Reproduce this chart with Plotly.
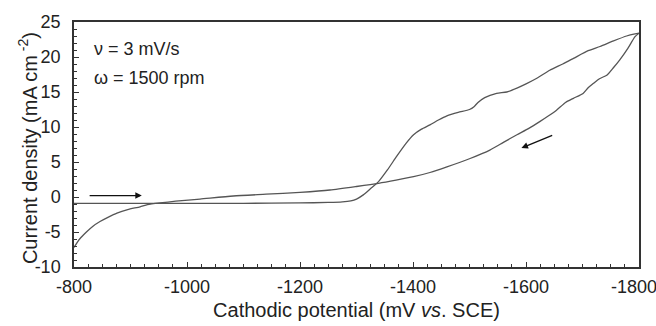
import plotly.graph_objects as go

# Forward (cathodic) scan: -800 -> -1800 mV
fwd_x = [-800, -850, -900, -950, -1000, -1100, -1200, -1250, -1275, -1290, -1300, -1312,
         -1325, -1339, -1355, -1371, -1388, -1401, -1415, -1430, -1445, -1460, -1480,
         -1500, -1508, -1515, -1527, -1548, -1566, -1585, -1601, -1620, -1642, -1665,
         -1684, -1710, -1731, -1755, -1778, -1793, -1800]
fwd_y = [-0.9, -0.9, -0.9, -0.9, -0.9, -0.9, -0.85, -0.78, -0.7, -0.55, -0.3, 0.3,
         1.2, 2.2, 3.9, 5.8, 7.7, 8.9, 9.7, 10.3, 11.0, 11.6, 12.1,
         12.5, 12.9, 13.5, 14.2, 14.8, 15.0, 15.6, 16.2, 17.0, 18.1, 19.0,
         19.8, 20.9, 21.5, 22.3, 23.0, 23.3, 23.4]

# Reverse (anodic) scan: -1800 -> -800 mV
rev_x = [-1800, -1793, -1780, -1766, -1755, -1743, -1730, -1719, -1710, -1701, -1684,
         -1670, -1654, -1640, -1625, -1605, -1584, -1560, -1536, -1501, -1460, -1430,
         -1401, -1370, -1339, -1300, -1253, -1200, -1140, -1082, -1023, -980, -952,
         -930, -917, -895, -876, -860, -846, -833, -822, -810, -800]
rev_y = [23.4, 22.9, 21.2, 19.6, 18.5, 17.4, 16.9, 16.2, 15.6, 14.8, 14.1,
         13.5, 12.4, 11.6, 10.8, 9.8, 8.9, 7.8, 6.7, 5.5, 4.3, 3.5,
         2.9, 2.4, 1.95, 1.5, 1.0, 0.67, 0.4, 0.14, -0.3, -0.6, -0.85,
         -1.1, -1.4, -1.8, -2.3, -2.9, -3.5, -4.2, -5.0, -6.0, -7.2]

x_ticks = [-800, -1000, -1200, -1400, -1600, -1800]
y_ticks = [-10, -5, 0, 5, 10, 15, 20, 25]

line_color = "#555555"
axis_color = "#333333"
text_color = "#222222"
font_family = "Liberation Sans, Arial, sans-serif"

# keep the last x label inside the picture, as in the reference
x_ticktext = [str(v) for v in x_ticks]
x_ticktext[-1] = x_ticktext[-1] + "\u00a0\u00a0"

fig = go.Figure()
fig.add_trace(go.Scatter(x=fwd_x, y=fwd_y, mode="lines",
                         line=dict(color=line_color, width=1.3, shape="spline", smoothing=0.6),
                         showlegend=False))
fig.add_trace(go.Scatter(x=rev_x, y=rev_y, mode="lines",
                         line=dict(color=line_color, width=1.3, shape="spline", smoothing=0.6),
                         showlegend=False))

# direction arrows
fig.add_annotation(x=-920, y=0.2, ax=-825, ay=0.2, xref="x", yref="y", axref="x", ayref="y",
                   text="", showarrow=True, arrowhead=2, arrowsize=1, arrowwidth=1.3,
                   arrowcolor="#111111")
fig.add_annotation(x=-1592, y=7.0, ax=-1649, ay=8.9, xref="x", yref="y", axref="x", ayref="y",
                   text="", showarrow=True, arrowhead=2, arrowsize=1, arrowwidth=1.3,
                   arrowcolor="#111111")

fig.add_annotation(x=-831, y=21.1, xref="x", yref="y", text="ν = 3 mV/s", showarrow=False,
                   xanchor="left", yanchor="middle", font=dict(size=18, color=text_color))
fig.add_annotation(x=-831, y=17.0, xref="x", yref="y", text="ω = 1500 rpm", showarrow=False,
                   xanchor="left", yanchor="middle", font=dict(size=18, color=text_color))

# y-axis title
fig.add_annotation(x=-0.082, y=0.484, xref="paper", yref="paper",
                   text="Current density (mA cm<sup> -2</sup>)", textangle=-90,
                   showarrow=False, xanchor="center", yanchor="middle",
                   font=dict(size=20, color=text_color))

fig.update_layout(
    width=656, height=326,
    margin=dict(l=74, r=17, t=22, b=59, autoexpand=False),
    paper_bgcolor="white", plot_bgcolor="white",
    font=dict(family=font_family, size=18, color=text_color),
    xaxis=dict(range=[-800, -1800], tickvals=x_ticks, ticktext=x_ticktext,
               ticks="inside", ticklen=5, tickwidth=1, tickcolor=axis_color,
               ticklabelstandoff=3, ticklabeloverflow="allow",
               minor=dict(dtick=25, tick0=-800, ticks="inside", ticklen=3, tickcolor=axis_color),
               showgrid=False, zeroline=False, showline=True, linecolor=axis_color, linewidth=1.5,
               mirror=True, automargin=False, tickfont=dict(size=18),
               title=dict(text="Cathodic potential (mV <i>vs</i>. SCE)", font=dict(size=20), standoff=7)),
    yaxis=dict(range=[-10, 25], tickvals=y_ticks, ticktext=[str(v) for v in y_ticks],
               ticks="inside", ticklen=5, tickwidth=1, tickcolor=axis_color,
               ticklabelstandoff=8,
               minor=dict(dtick=1, tick0=0, ticks="inside", ticklen=3, tickcolor=axis_color),
               showgrid=False, zeroline=False, showline=True, linecolor=axis_color, linewidth=1.5,
               mirror=True, automargin=False, tickfont=dict(size=18)),
)

fig.write_html("out.html", config={"displayModeBar": False},
               post_script="document.body.style.margin='0px';")
